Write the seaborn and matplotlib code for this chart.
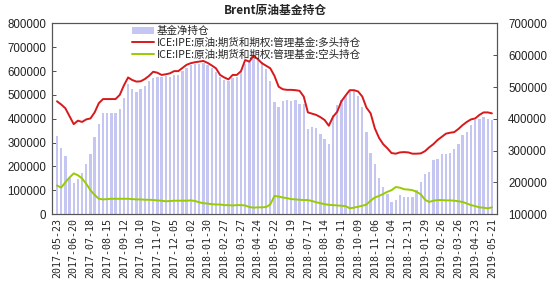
import matplotlib
matplotlib.use("Agg")
import matplotlib.pyplot as plt
import seaborn as sns
import pandas as pd
import numpy as np
from matplotlib.ticker import FuncFormatter, FixedLocator

sns.set_theme(style="white")
plt.rcParams['font.family'] = ['Noto Sans CJK SC', 'DejaVu Sans']

# tick labels (every 4 weeks)
tick_labels = ["2017-05-23", "2017-06-20", "2017-07-18", "2017-08-15", "2017-09-12",
               "2017-10-10", "2017-11-07", "2017-12-05", "2018-01-02", "2018-01-30",
               "2018-02-27", "2018-03-27", "2018-04-24", "2018-05-22", "2018-06-19",
               "2018-07-17", "2018-08-14", "2018-09-11", "2018-10-09", "2018-11-06",
               "2018-12-04", "2018-12-31", "2019-01-29", "2019-02-26", "2019-03-26",
               "2019-04-23", "2019-05-21"]

# net position (bars, left axis)
net = [328, 276, 242, 150, 130, 145, 172, 212, 250, 322,
       380, 425, 425, 425, 425, 440, 487, 545, 525, 514,
       525, 538, 560, 572, 575, 575, 580, 575, 584, 585,
       600, 612, 626, 630, 630, 636, 625, 612, 598, 575,
       562, 560, 570, 575, 595, 630, 640, 650, 655, 640,
       610, 560, 470, 450, 473, 478, 473, 478, 464, 462,
       358, 365, 362, 335, 313, 296, 415, 457, 478, 495,
       515, 520, 495, 450, 345, 255, 212, 150, 112, 85,
       50, 58, 78, 72, 70, 72, 100, 135, 170, 175,
       225, 230, 250, 250, 255, 275, 295, 330, 345, 372,
       393, 400, 408, 400, 395]

# long position (red, right axis)
long_pos = [455, 445, 433, 408, 383, 394, 390, 398, 401, 420,
            449, 462, 462, 462, 462, 475, 505, 530, 522, 517,
            518, 525, 535, 548, 545, 538, 540, 543, 550, 550,
            560, 570, 575, 578, 580, 582, 576, 568, 559, 538,
            530, 524, 538, 538, 550, 585, 580, 598, 588, 575,
            567, 559, 535, 501, 493, 491, 491, 490, 488, 470,
            420, 416, 412, 405, 396, 378, 406, 422, 455, 473,
            490, 490, 486, 470, 435, 417, 370, 340, 320, 307,
            292, 290, 294, 295, 294, 290, 290, 291, 298, 310,
            320, 333, 343, 353, 356, 358, 368, 380, 390, 398,
            401, 412, 420, 420, 417]

# short position (green, right axis)
short_pos = [190, 183, 200, 215, 228, 222, 212, 195, 175, 160,
             148, 146, 147, 148, 148, 148, 148, 148, 147, 146,
             146, 145, 145, 144, 143, 142, 140, 141, 142, 142,
             142, 142, 143, 141, 137, 134, 133, 131, 130, 130,
             128, 128, 127, 128, 128, 127, 122, 120, 121, 121,
             122, 130, 157, 155, 152, 150, 147, 146, 145, 144,
             144, 141, 137, 134, 131, 129, 128, 127, 126, 125,
             118, 120, 123, 126, 130, 142, 152, 157, 163, 170,
             175, 185, 183, 178, 177, 175, 170, 162, 145, 138,
             142, 144, 144, 143, 143, 142, 140, 138, 133, 128,
             125, 121, 120, 118, 121]

label_bar = "基金净持仓"
label_long = "ICE:IPE:原油:期货和期权:管理基金:多头持仓"
label_short = "ICE:IPE:原油:期货和期权:管理基金:空头持仓"

n = len(net)
df = pd.DataFrame({
    "idx": np.arange(n),
    "net": np.array(net) * 1000,
    "long": np.array(long_pos) * 1000,
    "short": np.array(short_pos) * 1000,
})

fig = plt.figure(figsize=(5.5, 2.9), dpi=100)
ax = fig.add_axes([0.0945, 0.262, 0.809, 0.657])
ax2 = ax.twinx()

sns.barplot(data=df, x="idx", y="net", ax=ax, color="#C6C6F3", width=0.55,
            saturation=1, native_scale=True, label=label_bar, linewidth=0)
sns.lineplot(data=df, x="idx", y="long", ax=ax2, color="#D7191C", linewidth=1.4,
             label=label_long)
sns.lineplot(data=df, x="idx", y="short", ax=ax2, color="#99CC00", linewidth=1.4,
             label=label_short)

ax.set_xlim(-1.2, n - 1 + 1.2)
ax.set_ylim(0, 800000)
ax2.set_ylim(100000, 700000)
ax.set_yticks(np.arange(0, 800001, 100000))
ax2.set_yticks(np.arange(100000, 700001, 100000))
fmt = FuncFormatter(lambda v, p: f"{int(v)}")
ax.yaxis.set_major_formatter(fmt)
ax2.yaxis.set_major_formatter(fmt)

ax.set_xticks(np.arange(0, n, 4))
ax.set_xticklabels(tick_labels, rotation=90, family="DejaVu Sans Mono", fontsize=7.2)
ax.xaxis.set_minor_locator(FixedLocator(np.arange(0, n)))
ax.tick_params(axis="x", which="both", direction="in", length=3, width=0.6,
               bottom=True, color="#333333", pad=3)
ax.tick_params(axis="y", direction="in", length=3, width=0.6, left=True,
               labelsize=8.3, color="#333333", pad=4)
ax2.tick_params(axis="y", direction="in", length=3, width=0.6, right=True,
                labelsize=8.3, color="#333333", pad=8)
for t in ax.get_yticklabels() + ax2.get_yticklabels():
    t.set_family(["Liberation Sans", "DejaVu Sans"])
    t.set_color("#222222")

ax.set_xlabel("")
ax.set_ylabel("")
ax2.set_xlabel("")
ax2.set_ylabel("")
for a in (ax, ax2):
    for s in a.spines.values():
        s.set_color("#555555")
        s.set_linewidth(0.8)

ax.grid(False)
ax2.grid(False)

h1, l1 = ax.get_legend_handles_labels()
h2, l2 = ax2.get_legend_handles_labels()
if ax.get_legend():
    ax.get_legend().remove()
leg = ax2.legend(h1 + h2, l1 + l2, loc="upper left", bbox_to_anchor=(0.165, 1.02),
                 frameon=False, fontsize=7.6, handlelength=2.1, handletextpad=0.3,
                 labelspacing=0.15, borderaxespad=0.2)

fig.suptitle("Brent原油基金持仓", fontsize=8.5, fontweight="bold", y=0.985)
fig.patch.set_facecolor("white")
fig.savefig("out.png", dpi=100, facecolor="white")
